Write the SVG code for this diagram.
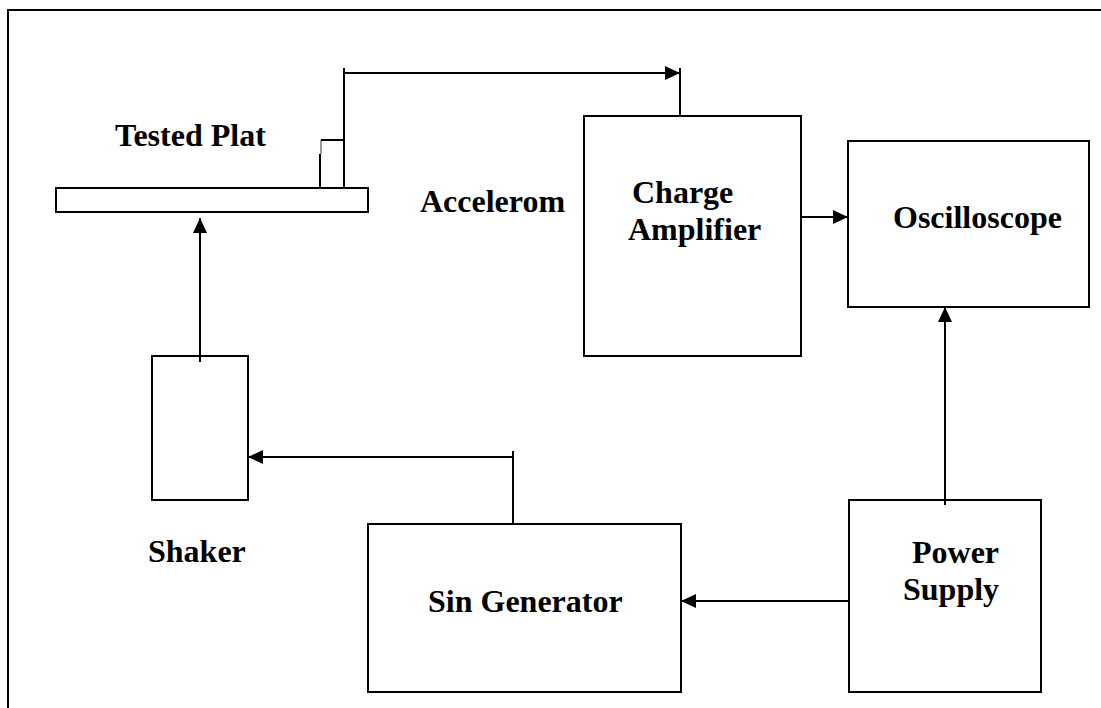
<svg xmlns="http://www.w3.org/2000/svg" width="1101" height="708" viewBox="0 0 1101 708">
<style>
.box{fill:#fff;stroke:#000;stroke-width:2}
.ln{fill:none;stroke:#000;stroke-width:2}
.lbl{font-family:"Liberation Serif","Times New Roman",serif;font-weight:bold;font-size:32px;fill:#000}
</style>
<defs>
<marker id="ah" markerWidth="16" markerHeight="14" refX="15" refY="7" orient="auto" markerUnits="userSpaceOnUse">
<path d="M0,0 L15,7 L0,14 Z" fill="#000"/>
</marker>
</defs>
<rect width="1101" height="708" fill="#fff"/>
<path d="M8,708 L8,10 L1101,10" fill="none" stroke="#000" stroke-width="2"/>
<g id="plate">
<rect class="box" x="56" y="188" width="312" height="24"/>
<text class="lbl" x="115" y="146">Tested Plat</text>
</g>
<g id="accelerometer">
<path class="ln" d="M320,188 L320,154 M321,140 L344,140 L344,188"/>
<path d="M321,140 L321,154" stroke="#000" stroke-width="0.8"/>
<text class="lbl" x="420" y="212">Accelerom</text>
</g>
<g id="charge-amplifier">
<rect class="box" x="584" y="116" width="217" height="240"/>
<text class="lbl" x="632" y="203">Charge</text>
<text class="lbl" x="628" y="240">Amplifier</text>
</g>
<g id="oscilloscope">
<rect class="box" x="848" y="141" width="241" height="166"/>
<text class="lbl" x="893" y="228">Oscilloscope</text>
</g>
<g id="shaker">
<rect class="box" x="152" y="356" width="96" height="144"/>
<text class="lbl" x="148" y="562">Shaker</text>
</g>
<g id="sin-generator">
<rect class="box" x="368" y="524" width="313" height="168"/>
<text class="lbl" x="428" y="612">Sin Generator</text>
</g>
<g id="power-supply">
<rect class="box" x="849" y="500" width="192" height="192"/>
<text class="lbl" x="912" y="563">Power</text>
<text class="lbl" x="903" y="600">Supply</text>
</g>
<g id="connectors">
<path class="ln" d="M344,140 L344,68 M344,73 L680,73" marker-end="url(#ah)"/>
<path class="ln" d="M680,68 L680,116"/>
<path class="ln" d="M801,217 L848,217" marker-end="url(#ah)"/>
<path class="ln" d="M200,362 L200,218" marker-end="url(#ah)"/>
<path class="ln" d="M513,524 L513,451 M513,457 L248,457" marker-end="url(#ah)"/>
<path class="ln" d="M849,601 L681,601" marker-end="url(#ah)"/>
<path class="ln" d="M945,505 L945,307" marker-end="url(#ah)"/>
</g>
</svg>
